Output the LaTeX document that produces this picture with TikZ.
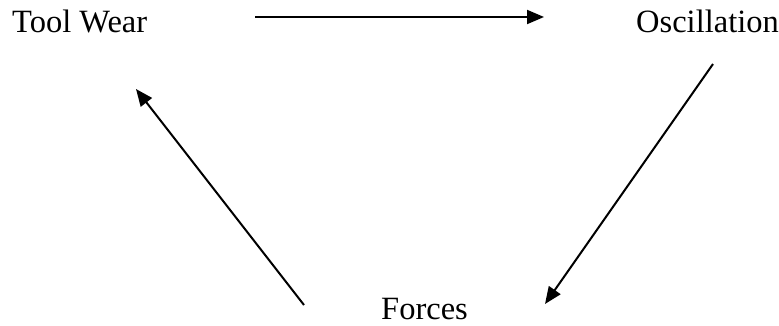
\documentclass[tikz,border=0pt]{standalone}
\usepackage{fontspec}
\setmainfont{Liberation Serif}
\usetikzlibrary{arrows.meta}
\begin{document}
\begin{tikzpicture}[x=1pt,y=-1pt,
  lbl/.style={anchor=base west,inner sep=0pt,font=\fontsize{32.5}{32.5}\selectfont},
  conn/.style={line width=2pt,-{Triangle[length=17pt,width=14pt]}}]
\useasboundingbox (0,0) rectangle (779,326);
\node[lbl] (tw) at (12,33) {Tool Wear};
\node[lbl] (osc) at (636,33) {Oscillation};
\node[lbl] (fo) at (381,319) {Forces};
\coordinate (a1) at (255,17);
\coordinate (b1) at (544,17);
\coordinate (a2) at (713,64);
\coordinate (b2) at (545,304);
\coordinate (a3) at (304,305);
\coordinate (b3) at (136,89);
\draw[conn] (a1) -- (b1);
\draw[conn] (a2) -- (b2);
\draw[conn] (a3) -- (b3);
\end{tikzpicture}
\end{document}
